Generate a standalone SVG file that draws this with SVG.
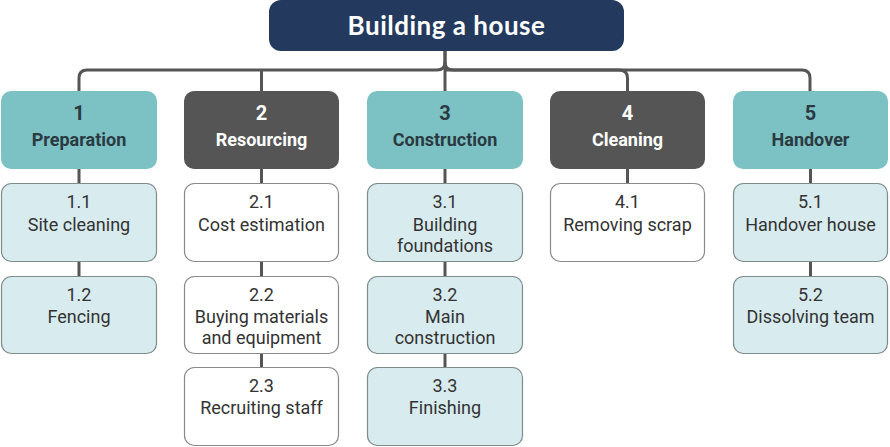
<svg xmlns="http://www.w3.org/2000/svg" width="890" height="447" viewBox="0 0 890 447">
<style>
.root{fill:#233a5e}
.title{font-family:Lato,"Liberation Sans",sans-serif;font-weight:700;font-size:26px;letter-spacing:0.5px;fill:#ffffff;text-anchor:middle}
.teal{fill:#7cc2c4}
.dark{fill:#555555}
.num{font-family:Roboto,"Liberation Sans",sans-serif;font-weight:700;font-size:20px;text-anchor:middle}
.lbl{font-family:Roboto,"Liberation Sans",sans-serif;font-weight:700;font-size:18px;text-anchor:middle}
.tt{fill:#2b3a42}
.wt{fill:#ffffff}
.cl{fill:#d8ebee;stroke:#7f8c8c;stroke-width:1.2}
.cw{fill:#ffffff;stroke:#8a8a8a;stroke-width:1.2}
.ct{font-family:Roboto,"Liberation Sans",sans-serif;font-size:18px;fill:#333333;text-anchor:middle}
.conn path{fill:none;stroke:#555555;stroke-width:3}
</style>
<g class="conn" id="connectors">
<path d="M445 51 V62 Q445 70 437 70 H87 Q79 70 79 78 V92"/>
<path d="M445 62 Q445 70 453 70 H802 Q810 70 810 78 V92"/>
<path d="M445 51 V92"/>
<path d="M261.5 70 V92"/>
<path d="M445 70 H619 Q627.5 70 627.5 78 V92"/>
<path d="M79 168 V184 M79 261 V277"/>
<path d="M261.5 168 V184 M261.5 261 V277 M261.5 352 V368"/>
<path d="M445 168 V184 M445 261 V277 M445 352 V368"/>
<path d="M627.5 168 V184"/>
<path d="M810.5 168 V184 M810.5 261 V277"/>
</g>
<g id="root">
<rect class="root" x="269" y="0" width="355" height="51" rx="12"/>
<text class="title" x="446.5" y="34.5">Building a house</text>
</g>
<g id="n1">
<rect class="teal" x="1" y="91" width="156" height="78" rx="10"/>
<text class="num tt" x="79" y="120">1</text>
<text class="lbl tt" x="79" y="146">Preparation</text>
</g>
<g id="n2">
<rect class="dark" x="184" y="91" width="155" height="78" rx="10"/>
<text class="num wt" x="261.5" y="120">2</text>
<text class="lbl wt" x="261.5" y="146">Resourcing</text>
</g>
<g id="n3">
<rect class="teal" x="367" y="91" width="156" height="78" rx="10"/>
<text class="num tt" x="445" y="120">3</text>
<text class="lbl tt" x="445" y="146">Construction</text>
</g>
<g id="n4">
<rect class="dark" x="550" y="91" width="155" height="78" rx="10"/>
<text class="num wt" x="627.5" y="120">4</text>
<text class="lbl wt" x="627.5" y="146">Cleaning</text>
</g>
<g id="n5">
<rect class="teal" x="733" y="91" width="155" height="78" rx="10"/>
<text class="num tt" x="810.5" y="120">5</text>
<text class="lbl tt" x="810.5" y="146">Handover</text>
</g>
<g id="n1_1">
<rect class="cl" x="1.5" y="183.5" width="155" height="78" rx="10"/>
<text class="ct" x="79" y="208">1.1</text>
<text class="ct" x="79" y="231">Site cleaning</text>
</g>
<g id="n1_2">
<rect class="cl" x="1.5" y="276.5" width="155" height="77" rx="10"/>
<text class="ct" x="79" y="301">1.2</text>
<text class="ct" x="79" y="323">Fencing</text>
</g>
<g id="n2_1">
<rect class="cw" x="184.5" y="183.5" width="154" height="78" rx="10"/>
<text class="ct" x="261.5" y="208">2.1</text>
<text class="ct" x="261.5" y="231">Cost estimation</text>
</g>
<g id="n2_2">
<rect class="cw" x="184.5" y="276.5" width="154" height="77" rx="10"/>
<text class="ct" x="261.5" y="301">2.2</text>
<text class="ct" x="261.5" y="323">Buying materials</text>
<text class="ct" x="261.5" y="344">and equipment</text>
</g>
<g id="n2_3">
<rect class="cw" x="184.5" y="367.5" width="154" height="78" rx="10"/>
<text class="ct" x="261.5" y="392">2.3</text>
<text class="ct" x="261.5" y="414">Recruiting staff</text>
</g>
<g id="n3_1">
<rect class="cl" x="367.5" y="183.5" width="155" height="78" rx="10"/>
<text class="ct" x="445" y="208">3.1</text>
<text class="ct" x="445" y="231">Building</text>
<text class="ct" x="445" y="252">foundations</text>
</g>
<g id="n3_2">
<rect class="cl" x="367.5" y="276.5" width="155" height="77" rx="10"/>
<text class="ct" x="445" y="301">3.2</text>
<text class="ct" x="445" y="323">Main</text>
<text class="ct" x="445" y="344">construction</text>
</g>
<g id="n3_3">
<rect class="cl" x="367.5" y="367.5" width="155" height="78" rx="10"/>
<text class="ct" x="445" y="392">3.3</text>
<text class="ct" x="445" y="414">Finishing</text>
</g>
<g id="n4_1">
<rect class="cw" x="550.5" y="183.5" width="154" height="78" rx="10"/>
<text class="ct" x="627.5" y="208">4.1</text>
<text class="ct" x="627.5" y="231">Removing scrap</text>
</g>
<g id="n5_1">
<rect class="cl" x="733.5" y="183.5" width="154" height="78" rx="10"/>
<text class="ct" x="810.5" y="208">5.1</text>
<text class="ct" x="810.5" y="231">Handover house</text>
</g>
<g id="n5_2">
<rect class="cl" x="733.5" y="276.5" width="154" height="77" rx="10"/>
<text class="ct" x="810.5" y="301">5.2</text>
<text class="ct" x="810.5" y="323">Dissolving team</text>
</g>
</svg>
